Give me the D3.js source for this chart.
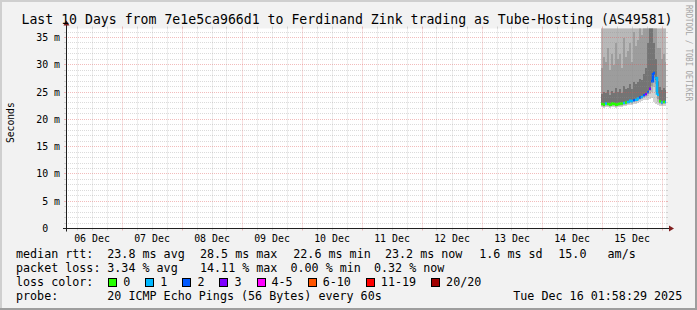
<!DOCTYPE html>
<html>
<head>
<meta charset="utf-8">
<script src="https://cdn.jsdelivr.net/npm/d3@7"></script>
<style>
  html, body { margin: 0; padding: 0; background: #f2f2f2; }
  svg { display: block; }
  text { font-family: "DejaVu Sans Mono", monospace; white-space: pre; fill: #000; }
</style>
</head>
<body>
<div id="chart"></div>
<script>
// SmokePing style "last 10 days" graph, rrdtool look

const TITLE = 'Last 10 Days from 7e1e5ca966d1 to Ferdinand Zink trading as Tube-Hosting (AS49581)';
const Y_TITLE = 'Seconds';
const WATERMARK = 'RRDTOOL / TOBI OETIKER';

// x axis: one label per day (centered on the day)
const dayLabels = ['06 Dec', '07 Dec', '08 Dec', '09 Dec', '10 Dec', '11 Dec', '12 Dec', '13 Dec', '14 Dec', '15 Dec'];
const dayNumbers = [6, 7, 8, 9, 10, 11, 12, 13, 14, 15];

// y axis (milliseconds)
const yTicks = [0, 5, 10, 15, 20, 25, 30, 35];
const yTickLabels = ['0  ', '5 m', '10 m', '15 m', '20 m', '25 m', '30 m', '35 m'];

// samples start late on 14 Dec, one every 48 minutes
const sampleStart = Date.UTC(2025, 11, 14, 23, 36);
const sampleStepMinutes = 48;

// median rtt (ms) and lost pings (of 20) per sample
const median = [22.8, 22.7, 22.9, 22.8, 22.7, 22.9, 22.8, 22.7, 22.8, 22.9, 22.9, 23.0, 23.1, 23.2, 23.4, 23.3, 23.5,
  23.6, 23.8, 24.0, 24.1, 24.4, 24.6, 25.0, 25.6, 27.0, 28.5, 27.6, 24.5, 23.3, 23.1, 23.2, 23.2];
const lost = [0, 0, 1, 0, 0, 0, 0, 0, 0, 0, 0, 1, 0, 1, 1, 1, 2, 1, 1, 2, 1, 2, 3, 2, 3, 2, 2, 1, 1, 0, 1, 0, 1];

// smoke: sorted ping percentiles (ms) per sample
const pingMin = [22.2, 22.1, 22.2, 22.2, 22.1, 22.3, 22.2, 22.1, 22.2, 22.3, 22.3, 22.4, 22.5, 22.6, 22.7, 22.6, 22.8,
  22.9, 23.0, 23.2, 23.3, 23.5, 23.6, 23.6, 23.8, 24.0, 23.2, 22.9, 22.6, 22.5, 22.4, 22.5, 22.5];
const ping10 = [22.4, 22.3, 22.5, 22.4, 22.3, 22.5, 22.4, 22.3, 22.4, 22.5, 22.5, 22.6, 22.7, 22.8, 23.0, 22.9, 23.1,
  23.2, 23.4, 23.6, 23.7, 23.9, 24.1, 24.2, 24.6, 25.0, 26.0, 25.0, 23.2, 22.8, 22.7, 22.8, 22.8];
const ping25 = [22.6, 22.5, 22.7, 22.6, 22.5, 22.7, 22.6, 22.5, 22.6, 22.7, 22.7, 22.8, 22.9, 23.0, 23.2, 23.1, 23.3,
  23.4, 23.6, 23.8, 23.9, 24.2, 24.4, 24.7, 25.2, 26.2, 27.5, 26.5, 23.8, 23.0, 22.9, 23.0, 23.0];
const ping40 = [22.7, 22.6, 22.8, 22.7, 22.6, 22.8, 22.7, 22.6, 22.7, 22.8, 22.8, 22.9, 23.0, 23.1, 23.3, 23.2, 23.4,
  23.5, 23.7, 23.9, 24.0, 24.3, 24.5, 24.9, 25.5, 26.8, 28.2, 27.2, 24.3, 23.2, 23.0, 23.1, 23.1];
const ping60 = [24.6, 25.0, 24.8, 25.4, 24.5, 25.2, 24.9, 25.8, 25.0, 25.6, 24.8, 26.2, 25.5, 25.8, 26.4, 25.6, 26.8,
  26.4, 26.8, 27.4, 27.2, 28.4, 29.5, 34.0, 39.0, 40.0, 34.0, 31.0, 27.0, 26.0, 25.4, 25.8, 25.4];
const ping75 = [29.5, 31.5, 30.5, 33.0, 29.0, 32.0, 30.0, 34.0, 31.0, 32.0, 29.5, 35.0, 31.5, 32.5, 34.0, 30.5, 36.0,
  33.5, 34.5, 37.5, 35.5, 38.0, 39.0, 42.0, 48.0, 50.0, 42.0, 38.0, 33.0, 33.0, 31.0, 32.0, 30.5];
const ping90 = [41, 44, 42, 46, 40, 45, 42, 47, 43, 44, 40, 48, 44, 45, 47, 42, 49,
  46, 47, 50, 48, 51, 52, 55, 58, 60, 55, 50, 45, 45, 43, 44, 42];
const pingMax = [52, 55, 53, 58, 50, 56, 53, 60, 54, 56, 51, 60, 55, 57, 58, 54, 61,
  58, 59, 62, 60, 63, 64, 66, 68, 70, 66, 62, 57, 57, 54, 55, 53];

// loss colour legend
const lossLabels = ['0', '1', '2', '3', '4-5', '6-10', '11-19', '20/20'];
const lossColors = ['#26ff00', '#00b8ff', '#0059ff', '#7e00ff', '#ff00ff', '#ff5500', '#ff0000', '#a10000'];

// legend text rows
const rttLegend = ['median rtt:', '23.8 ms avg', '28.5 ms max', '22.6 ms min', '23.2 ms now', '1.6 ms sd', '15.0   am/s'];
const lossLegend = ['packet loss:', '3.34 % avg', '14.11 % max', '0.00 % min', '0.32 % now'];
const colorLegend = 'loss color:';
const probeLegend = ['probe:', '20 ICMP Echo Pings (56 Bytes) every 60s'];
const stampLegend = 'Tue Dec 16 01:58:29 2025';

(function() {
  'use strict';

  const W = 697, H = 310;
  const X0 = 66, X1 = 666, Y0 = 228.5, Y1 = 28.5;

  const C = {
    back: '#f2f2f2', canvas: '#ffffff', shadeA: '#cfcfcf', shadeB: '#9e9e9e',
    grid: 'rgba(143,143,143,0.32)', mgrid: 'rgba(222,79,79,0.38)',
    arrow: '#801f1f', axis: '#1f1f1f', font: '#000000'
  };

  const svg = d3.select('#chart').append('svg')
    .attr('width', W).attr('height', H)
    .attr('viewBox', [0, 0, W, H]);

  // background + 3d frame
  svg.append('rect').attr('width', W).attr('height', H).attr('fill', C.back);
  svg.append('path').attr('d', `M0,${H} V0 H${W}`).attr('fill', 'none')
    .attr('stroke', C.shadeA).attr('stroke-width', 4);
  svg.append('path').attr('d', `M0,${H - 1} H${W - 1} V0`).attr('fill', 'none')
    .attr('stroke', C.shadeB).attr('stroke-width', 2);

  const x = d3.scaleUtc()
    .domain([Date.UTC(2025, 11, 6, 1, 36), Date.UTC(2025, 11, 16, 1, 36)])
    .range([X0, X1]);
  const y = d3.scaleLinear().domain([0, 36.65]).range([Y0, Y1]);
  const crisp = v => Math.floor(v) + 0.5;

  // canvas
  svg.append('rect').attr('x', X0).attr('y', Y1)
    .attr('width', X1 - X0).attr('height', Y0 - Y1).attr('fill', C.canvas);

  svg.append('defs').append('clipPath').attr('id', 'plot')
    .append('rect').attr('x', X0 + 1).attr('y', Y1)
    .attr('width', X1 - X0 - 1).attr('height', Y0 - Y1);

  const times = median.map((_, i) => new Date(sampleStart + i * sampleStepMinutes * 60000));
  const binW = x(new Date(sampleStart + sampleStepMinutes * 60000)) - x(new Date(sampleStart));

  // smoke bands, outer (light) to inner (dark)
  const bands = [
    [pingMin, pingMax, '#d2d2d2'],
    [ping10, ping90, '#b8b8b8'],
    [ping25, ping75, '#9d9d9d'],
    [ping40, ping60, '#747474']
  ];
  const smoke = svg.append('g').attr('clip-path', 'url(#plot)');
  bands.forEach(([lo, hi, col]) => {
    smoke.append('g').selectAll('rect')
      .data(times)
      .join('rect')
      .attr('x', d => x(d))
      .attr('width', binW)
      .attr('y', (d, i) => y(hi[i]))
      .attr('height', (d, i) => y(lo[i]) - y(hi[i]))
      .attr('fill', col)
      .attr('shape-rendering', 'crispEdges');
  });

  // median line coloured by loss
  const bucket = n => n === 0 ? 0 : n === 1 ? 1 : n === 2 ? 2 : n === 3 ? 3 :
    n <= 5 ? 4 : n <= 10 ? 5 : n < 20 ? 6 : 7;
  const medG = svg.append('g').attr('clip-path', 'url(#plot)');
  times.forEach((t, i) => {
    const b = bucket(lost[i]);
    let d = `M${x(t)},${y(median[i])} H${x(t) + binW}`;
    if (i + 1 < times.length && bucket(lost[i + 1]) === b) d += ` V${y(median[i + 1])}`;
    medG.append('path').attr('d', d).attr('fill', 'none')
      .attr('stroke', lossColors[b]).attr('stroke-width', 2.5);
  });

  // grid (drawn over the data like rrdtool)
  const grid = svg.append('g').attr('fill', 'none').attr('stroke-width', 1);
  d3.range(1, 37).forEach(v => {
    const yy = crisp(y(v));
    const major = v % 5 === 0;
    const col = major ? C.mgrid : C.grid;
    grid.append('path').attr('d', `M${X0},${yy} H${X1}`).attr('stroke', col).attr('stroke-dasharray', '1,1');
    grid.append('path').attr('d', `M${X0 - 2},${yy} H${X0} M${X1},${yy} H${X1 + 2}`).attr('stroke', col);
  });
  x.ticks(d3.utcHour.every(6)).forEach(t => {
    const xx = crisp(x(t));
    if (xx <= X0 + 1 || xx >= X1) return;
    const major = t.getUTCHours() === 0;
    const col = major ? C.mgrid : C.grid;
    grid.append('path').attr('d', `M${xx},${Y1} V${Y0}`).attr('stroke', col).attr('stroke-dasharray', '1,1');
    grid.append('path').attr('d', `M${xx},${Y1 - 2} V${Y1} M${xx},${Y0} V${Y0 + 2}`).attr('stroke', col);
  });

  // axes + arrows
  svg.append('path').attr('d', `M${X0 - 3},${Y0} H${X1 + 5} M${X0 + 0.5},${Y0 + 3} V${Y1 - 5}`)
    .attr('stroke', C.axis).attr('fill', 'none');
  svg.append('path').attr('d', `M${X1 + 8},${Y0} L${X1 + 3},${Y0 - 3} L${X1 + 3},${Y0 + 3} Z`)
    .attr('fill', C.arrow);
  svg.append('path').attr('d', `M${X0 + 0.5},${Y1 - 8} L${X0 - 2.5},${Y1 - 3} L${X0 + 3.5},${Y1 - 3} Z`)
    .attr('fill', C.arrow);

  // y labels
  svg.append('g').selectAll('text')
    .data(yTicks)
    .join('text')
    .attr('x', 60)
    .attr('y', v => y(v) + 3.5)
    .attr('text-anchor', 'end')
    .attr('font-size', '9.9px')
    .text((v, i) => yTickLabels[i]);

  // x labels
  svg.append('g').selectAll('text')
    .data(dayNumbers)
    .join('text')
    .attr('x', d => x(new Date(Date.UTC(2025, 11, d, 12))))
    .attr('y', 241.5)
    .attr('text-anchor', 'middle')
    .attr('font-size', '9.9px')
    .text((d, i) => dayLabels[i]);

  // title, y title, watermark
  svg.append('text').attr('x', 347).attr('y', 24)
    .attr('text-anchor', 'middle').attr('font-size', '13.2px').text(TITLE);
  svg.append('text').attr('transform', 'translate(14,122.7) rotate(-90)')
    .attr('text-anchor', 'middle').attr('font-size', '9.7px').text(Y_TITLE);
  svg.append('text').attr('transform', 'translate(686,5) rotate(90)')
    .attr('font-size', '8.6px').attr('textLength', 96).attr('lengthAdjust', 'spacingAndGlyphs')
    .style('fill', '#a4a4a4').text(WATERMARK);

  // legend
  const LF = '11.7px';
  const leg = svg.append('g').attr('font-size', LF);
  const rttX = [16, 107.3, 200, 293.3, 385, 479.3, 558.3];
  rttLegend.forEach((s, i) => leg.append('text').attr('x', rttX[i]).attr('y', 257.8).text(s));
  const lossX = [16, 107.3, 200, 290.5, 374];
  lossLegend.forEach((s, i) => leg.append('text').attr('x', lossX[i]).attr('y', 271.8).text(s));
  leg.append('text').attr('x', 16).attr('y', 285.8).text(colorLegend);
  let sx = 108.3;
  lossLabels.forEach((s, i) => {
    leg.append('rect').attr('x', Math.round(sx) + 0.5).attr('y', 278.5)
      .attr('width', 8).attr('height', 8)
      .attr('fill', lossColors[i]).attr('stroke', '#000');
    leg.append('text').attr('x', sx + 15).attr('y', 285.8).text(s);
    sx += 30 + 7.05 * s.length;
  });
  leg.append('text').attr('x', 16).attr('y', 299.7).text(probeLegend[0]);
  leg.append('text').attr('x', 107.3).attr('y', 299.7).text(probeLegend[1]);
  leg.append('text').attr('x', 513.3).attr('y', 299.7).text(stampLegend);
})();
</script>
</body>
</html>
